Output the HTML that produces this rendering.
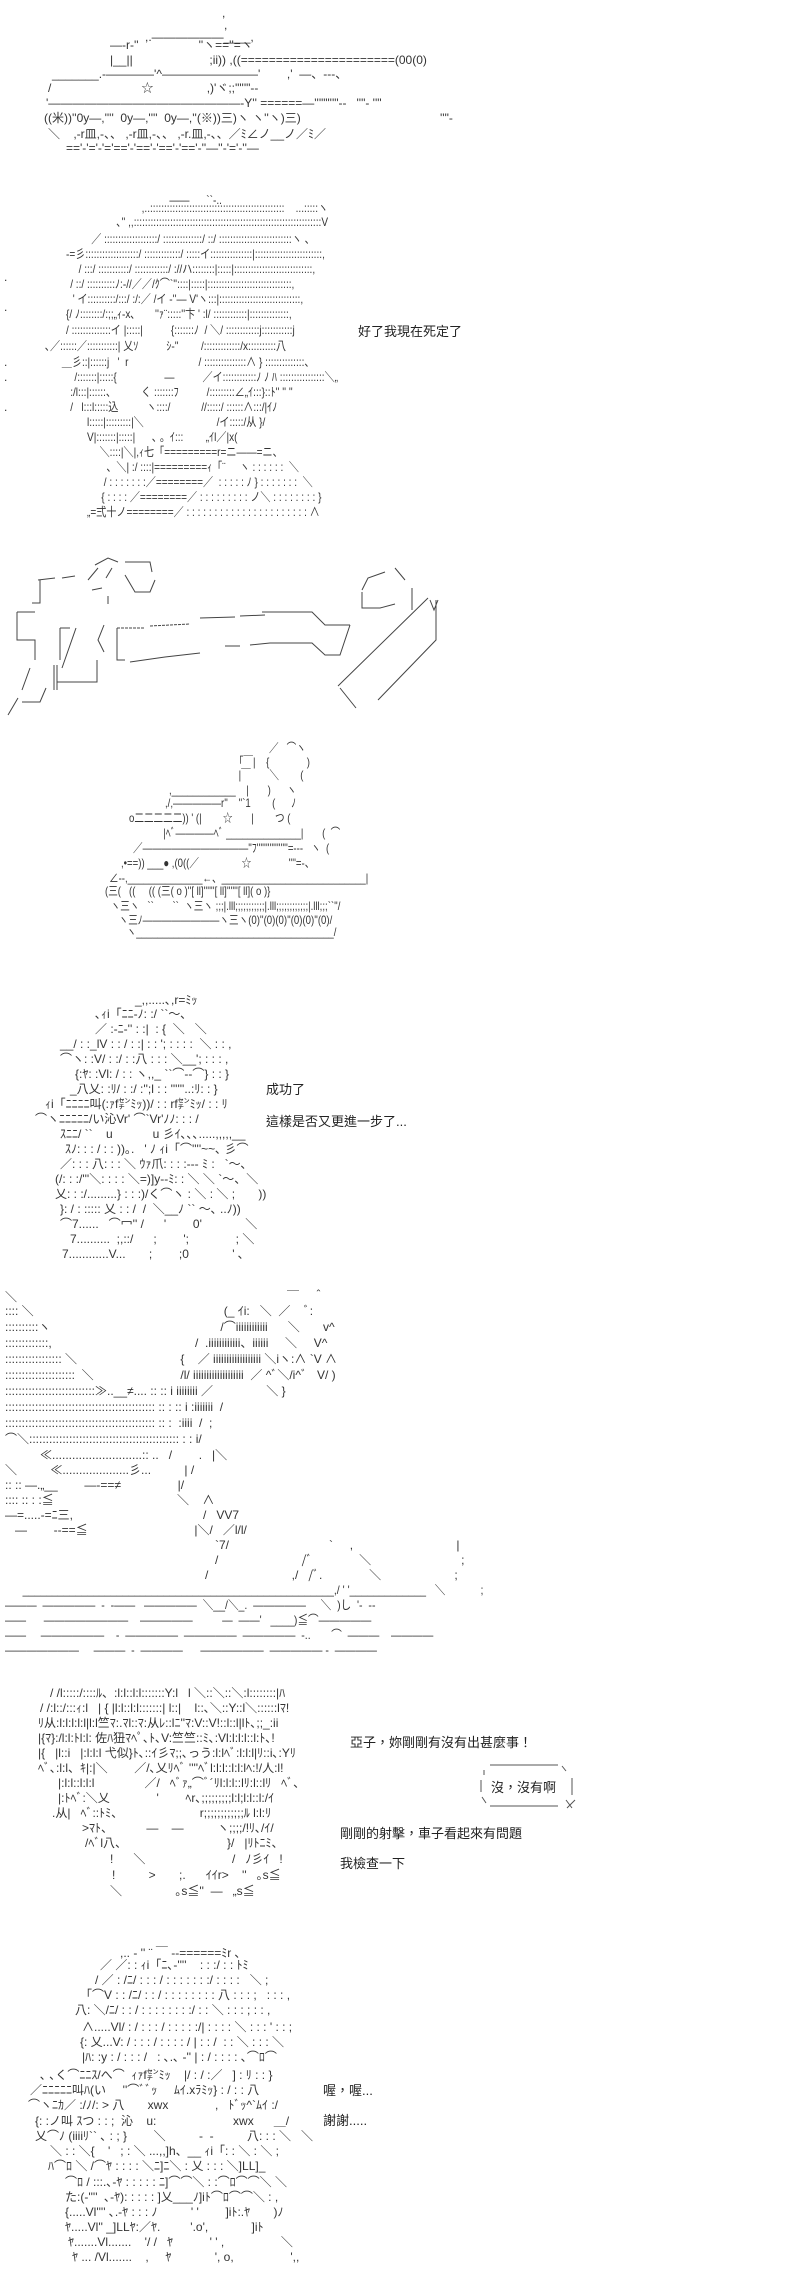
<!DOCTYPE html>
<html><head><meta charset="utf-8">
<style>
html,body{margin:0;padding:0;background:#fff;}
body{width:800px;height:2291px;position:relative;overflow:hidden;}
.l{position:absolute;white-space:pre;font-family:"Liberation Sans","Noto Sans CJK JP",sans-serif;font-size:12px;line-height:15px;color:#333;}
.t{position:absolute;white-space:pre;font-family:"Liberation Sans","Noto Sans CJK TC",sans-serif;font-size:13px;line-height:15px;color:#222;}
.w{position:absolute;left:0;top:0;width:800px;height:2291px;}
svg{position:absolute;left:0;top:0;}
</style></head><body>

<!-- Tank 1 -->
<div class="l" style="left:222px;top:6px">,</div>
<div class="l" style="left:224px;top:18px">,</div>
<div class="l" style="left:145px;top:30px">,.――――――____,</div>
<div class="l" style="left:110px;top:38px">―‐r‐''                  ''ヽ==''=ヽ</div>
<div class="l" style="left:110px;top:53px">|__||                       ;ii)) ,((======================(00(0)</div>
<div class="l" style="left:52px;top:67px">_______.-――――'^――――――――'        ,'  ―、‐‐‐、</div>
<div class="l" style="left:48px;top:81px">/                           ☆                ,)'ヾ;;'"''"‐‐</div>
<div class="l" style="left:46px;top:96px">'――――――――――――――――‐Y'' ======―'''""''"‐‐   ''"‐ ''"</div>
<div class="l" style="left:440px;top:111px">''"‐</div>
<div class="l" style="left:44px;top:111px">((米))''0y―,''''  0y―,''''  0y―,''(※))三)ヽ ヽ''ヽ)三)</div>
<div class="l" style="left:48px;top:127px">＼    ,‐r皿,‐、、 ,‐r皿,‐、、 ,‐r.皿,‐、、／ﾐ∠ノ__ノ／ﾐ／</div>
<div class="l" style="left:66px;top:141px">=='‐'='‐'='=='‐'=='‐'=='‐'=='‐''―''‐'='‐''―</div>

<!-- Girl 1 -->
<div class="w" style="transform:scaleX(.84);transform-origin:45px 0">
<div class="l" style="left:193px;top:193px">――      ``‐..</div>
<div class="l" style="left:160px;top:201px">,..::::::::::::::::::::::::::::::::::::::::::::::::    ...:::::ヽ</div>
<div class="l" style="left:130px;top:215px">､'' ,,:::::::::::::::::::::::::::::::::::::::::::::::::::::::::::::::::::V</div>
<div class="l" style="left:100px;top:232px">／ :::::::::::::::::::/ ::::::::::::::/ ::/ ::::::::::::::::::::::::::ヽ 、</div>
<div class="l" style="left:70px;top:247px">‐=彡:::::::::::::::::::/ :::::::::::::/ :::::イ:::::::::::::::|::::::::::::::::::::::::,</div>
<div class="l" style="left:85px;top:262px">/ :::/ :::::::::::/ ::::::::::::/ ://ハ::::::::|:::::|::::::::::::::::::::::::::::,</div>
<div class="l" style="left:75px;top:277px">/ ::/ ::::::::::ﾉ:‐//／／/ｸ⌒`''::::|:::::|::::::::::::::::::::::::::::::,</div>
<div class="l" style="left:78px;top:292px">' イ::::::::::/:::/ :/:／ /イ ‐''― V'ヽ:::|:::::::::::::::::::::::::::::,</div>
<div class="l" style="left:70px;top:307px">{/ ﾉ::::::::/:;;„ｨ‐x､       ''ｧ¨:::::''卞 ' :l/ ::::::::::::|::::::::::::::,</div>
<div class="l" style="left:70px;top:323px">/ ::::::::::::::イ |:::::|          {:::::::ﾉ  / ＼/ ::::::::::::j:::::::::::j</div>
<div class="l" style="left:45px;top:339px">､／::::::／:::::::::::| 乂ｿ          ｼ‐''        /:::::::::::::/x::::::::::八</div>
<div class="l" style="left:65px;top:355px">＿彡::|::::::j   '  r                         / :::::::::::::::∧ } ::::::::::::::、</div>
<div class="l" style="left:80px;top:370px">/:::::::|:::::{                 ―          ／イ::::::::::::ﾉ ﾉ ﾊ ::::::::::::::::＼„</div>
<div class="l" style="left:75px;top:385px">:/l:::|::::::、         く :::::::ﾌ          /:::::::::∠„ｲ:::}::ﾄ'' '' ''</div>
<div class="l" style="left:75px;top:400px">/   l:::l:::::込          ヽ::::/           //:::::/ ::::::∧:::/|ｲﾉ</div>
<div class="l" style="left:95px;top:415px">l:::::|:::::::::|＼                          /イ:::::/从 }/</div>
<div class="l" style="left:95px;top:430px">V|:::::::|:::::|      ､ 。ｲ:::        „ｲl／|x(</div>
<div class="l" style="left:110px;top:445px">＼::::|＼|,ｨ七「=========r=ニ――=ニ、</div>
<div class="l" style="left:118px;top:460px">、＼| :/ ::::|=========ｨ「¨     ヽ : : : : : :  ＼</div>
<div class="l" style="left:115px;top:475px">/ : : : : : : :／========／  : : : : : ﾉ } : : : : : : :  ＼</div>
<div class="l" style="left:112px;top:490px">{ : : : : ／========／ : : : : : : : : : ノ＼ : : : : : : : : }</div>
<div class="l" style="left:95px;top:505px">„=弍十ノ========／ : : : : : : : : : : : : : : : : : : : : : : ∧</div>
</div>
<div class="l" style="left:4px;top:270px">.</div><div class="l" style="left:4px;top:300px">.</div>
<div class="l" style="left:4px;top:355px">.</div><div class="l" style="left:4px;top:370px">.</div><div class="l" style="left:4px;top:400px">.</div>
<div class="t" style="left:358px;top:324px">好了我現在死定了</div>

<!-- Gun scene -->
<svg width="800" height="2291" viewBox="0 0 800 2291">
<g fill="none" stroke="#444" stroke-width="1">
<path d="M38,580 L55,578 M62,578 L75,576"/>
<path d="M40,580 L40,603 L32,603"/>
<path d="M17,612 L35,612 M17,612 L17,640 L35,640 L35,660"/>
<path d="M30,668 L22,690 M18,698 L8,715"/>
<path d="M22,702 L40,702 L46,688"/>
<path d="M95,565 L108,558 L118,562 M88,580 L98,568 M92,590 L102,588 M106,578 L112,568"/>
<path d="M125,562 L150,562 L152,572 M125,575 L135,592 L150,592 L155,580"/>
<path d="M108,596 L108,604"/>
<path d="M60,628 L70,628 M60,628 L60,660 M76,628 L62,668"/>
<path d="M54,665 L54,690 M57,665 L57,690 M57,682 L97,682 L97,660"/>
<path d="M104,625 L98,640 L104,652"/>
<path d="M117,628 L145,628 M150,626 L190,624" stroke-dasharray="3,1"/>
<path d="M200,618 L235,617 M240,616 L265,615 M262,612 L312,612 L325,625 L350,625"/>
<path d="M117,628 L117,660 L125,660 M130,662 L165,657 L200,653 M225,646 L240,646 M250,645 L270,643 L312,643 L325,655 L340,655 L350,625"/>
<path d="M362,590 L368,578 L385,572 M395,568 L405,580 M412,588 L412,610 M362,592 L362,608 L380,608 L395,604"/>
<path d="M428,598 L338,686 M436,600 L436,640 L378,700 M340,688 L356,708"/>
<path d="M430,600 L434,610 L438,600"/>
</g>
</svg>

<!-- Tank 2 -->
<div class="w" style="transform:scaleX(.8);transform-origin:105px 0">
<div class="l" style="left:310px;top:741px">／   ⌒ヽ</div>
<div class="l" style="left:272px;top:755px">｢￣|    {              )</div>
<div class="l" style="left:272px;top:768px">|￣       ＼        (</div>
<div class="l" style="left:185px;top:783px">,____________    |       )      ヽ</div>
<div class="l" style="left:180px;top:796px">,/,―――――r''    ''`1        (      ﾉ</div>
<div class="l" style="left:135px;top:811px">o二二二二二)) ' (|        ☆       |        つ (</div>
<div class="l" style="left:178px;top:826px">|ﾍﾞ――――ﾍﾞ ______________|       (  ⌒</div>
<div class="l" style="left:140px;top:841px">／―――――――――――''ﾌ'''''''''''''''''=‐‐‐   ヽ  (</div>
<div class="l" style="left:125px;top:856px">,•==)) ___● ,(0((／                ☆              ''''=‐、</div>
<div class="l" style="left:110px;top:871px">∠‐‐,______________←、___________________________|</div>
<div class="l" style="left:105px;top:884px">(三(   ((     (( (三( o )''[ ll]''''''[ ll]''''''[ ll]( o )}</div>
<div class="l" style="left:112px;top:899px">ヽ三ヽ   ``       ``  ヽ三ヽ ;;;|.lll;;;;;;;;;;;|.lll;;;;;;;;;;;;|.lll;;;``''/</div>
<div class="l" style="left:122px;top:913px">ヽ三ﾉ――――――――ヽ三ヽ(0)''(0)(0)''(0)(0)''(0)/</div>
<div class="l" style="left:132px;top:925px">ヽ_____________________________________/</div>
</div>

<!-- Girl 2 -->
<div class="l" style="left:135px;top:993px">_,,.....､,r=ﾐｯ</div>
<div class="l" style="left:95px;top:1007px">､ｨi「ﾆﾆ‐ﾉ: :/ ``～､</div>
<div class="l" style="left:95px;top:1022px">／ :‐ﾆ‐'' : :|  : {  ＼   ＼</div>
<div class="l" style="left:60px;top:1037px">__/ : :_lV : : / : :| : : '; : : : :  ＼ : : ,</div>
<div class="l" style="left:60px;top:1052px">⌒ヽ: :V/ : :/ : :八 : : : ＼__'; : : : ,</div>
<div class="l" style="left:75px;top:1067px">{:ﾔ: :Vl: / : : ヽ,,_ ``⌒‐‐⌒} : : }</div>
<div class="l" style="left:70px;top:1082px">_八乂: :ﾘ/ : :/ :'';l : : ''''''..:ﾘ: : }</div>
<div class="l" style="left:45px;top:1097px">ｨi「ﾆﾆﾆﾆ叫(:ｧf㌢ﾐｯ))/ : : rf㌢ﾐｯ/ : : ﾘ</div>
<div class="l" style="left:35px;top:1112px">⌒ヽﾆﾆﾆﾆﾆ/い沁Vr' ⌒`Vr'ﾉﾉ: : : /</div>
<div class="l" style="left:60px;top:1127px">ｽﾆﾆ/ ``    u            u 彡ｲ､､､.....,,,,,__</div>
<div class="l" style="left:65px;top:1142px">ｽﾉ: : : / : : ))｡.   ' ﾉ ｨi「⌒''''~~､ 彡⌒</div>
<div class="l" style="left:60px;top:1157px">／: : : 八: : : ＼ ｳｧ爪: : : :‐‐‐ ﾐ :   `～､</div>
<div class="l" style="left:55px;top:1172px">(/: : :/'''＼: : : : ＼=)]y‐‐ﾐ: : ＼ ＼ `～、＼</div>
<div class="l" style="left:55px;top:1187px">乂: : :/.........} : : :)/く⌒ヽ : ＼ : ＼ ;       ))</div>
<div class="l" style="left:60px;top:1202px">}: / : ::::: 乂 : : /  /  ＼__ﾉ `` ～､ ..ﾉ))</div>
<div class="l" style="left:60px;top:1217px">⌒7......   ⌒冖'' /      '        0'             ＼</div>
<div class="l" style="left:70px;top:1232px">7..........  ;,::/      ;        ';              ; ＼</div>
<div class="l" style="left:62px;top:1247px">7............V...       ;        ;0             ' ､</div>
<div class="t" style="left:266px;top:1082px">成功了</div>
<div class="t" style="left:266px;top:1114px">這樣是否又更進一步了...</div>

<!-- Scene 6 -->
<div class="l" style="left:5px;top:1290px">＼                                                                                 ￣    ＾</div>
<div class="l" style="left:5px;top:1304px">:::: ＼                                                         (_ ｲi:   ＼  ／    ﾞ:</div>
<div class="l" style="left:5px;top:1320px">::::::::::ヽ                                                   /⌒iiiiiiiiiiii      ＼       v^</div>
<div class="l" style="left:5px;top:1336px">:::::::::::::,                                           /  .iiiiiiiiiiii、iiiiii     ＼     V^</div>
<div class="l" style="left:5px;top:1352px">::::::::::::::::: ＼                               {    ／ iiiiiiiiiiiiiiiiii ＼iヽ:∧ `V ∧</div>
<div class="l" style="left:5px;top:1368px">:::::::::::::::::::::  ＼                          /l/ iiiiiiiiiiiiiiiiiii  ／ ^ﾞ＼/i^ﾞ   V/ )</div>
<div class="l" style="left:5px;top:1384px">:::::::::::::::::::::::::::≫..__≠.... :: :: i iiiiiiii ／                ＼ }</div>
<div class="l" style="left:5px;top:1400px">::::::::::::::::::::::::::::::::::::::::::::: :: : :: i :iiiiiii  /</div>
<div class="l" style="left:5px;top:1416px">::::::::::::::::::::::::::::::::::::::::::::: :: :  :iiii  /  ;</div>
<div class="l" style="left:5px;top:1432px">⌒＼::::::::::::::::::::::::::::::::::::::::::::: : : i/</div>
<div class="l" style="left:40px;top:1448px">≪...........................:: ..   /        .   |＼</div>
<div class="l" style="left:5px;top:1463px">＼          ≪....................彡...          | /</div>
<div class="l" style="left:5px;top:1478px">:: :: ―.„__        ―‐==≠                 |/</div>
<div class="l" style="left:5px;top:1493px">:::: :: : :≦                                     ＼    ∧</div>
<div class="l" style="left:5px;top:1508px">―=.....‐=ﾆ三,                                       /   VV7</div>
<div class="l" style="left:15px;top:1523px">―        ‐‐==≦                                |＼/   ／l/l/</div>
<div class="l" style="left:215px;top:1538px">`7/                              `     ,                               |</div>
<div class="l" style="left:215px;top:1553px">/                         /ﾞ              ＼                           ;</div>
<div class="l" style="left:205px;top:1568px">/                         ,/   /ﾞ.              ＼                      ;</div>
<div class="w" style="transform:scaleX(.88);transform-origin:5px 0">
<div class="l" style="left:25px;top:1583px">_____________________________________________________,/ ' '_____________   ＼            ;</div>
<div class="l" style="left:5px;top:1598px">―――  ―――――  ‐  ‐――   ―――――  ＼__/＼_.  ―――――     ＼  )し  '‐  ‐‐</div>
<div class="l" style="left:5px;top:1613px">――      ――――――――    ―――――          ―  ――'   ____)≦⌒―――――</div>
<div class="l" style="left:5px;top:1628px">――     ――――――    ‐  ―――――  ―――――  ―――――  ‐..       ⌒  ―――    ――――</div>
<div class="l" style="left:5px;top:1643px">―――――――     ―――  ‐  ――――      ――――――  ――――― ‐  ――――</div>
</div>

<!-- Girl 3 -->
<div class="l" style="left:50px;top:1686px">/ /l:::::/::::ﾙ、:l:l::l:l:::::::Y:l   l ＼::＼::＼:l::::::::|ﾊ</div>
<div class="l" style="left:40px;top:1701px">/ /:l::/:::ｨ:l   | { |l:l::l:l:::::::| l::|    l::､＼::Y::l＼::::::lﾏ!</div>
<div class="l" style="left:38px;top:1716px">ﾘ从:l:l:l:l:l|l:l竺ﾏ:.ﾏl::ﾏ:从ﾚ::lﾆ''ﾏ:V::V!::l::l|lﾄ､;;_:ii</div>
<div class="l" style="left:38px;top:1731px">|{ﾏ}:/l:l:ﾄl:l: 佐ﾊ狃ﾏﾍﾟ､ﾄ､V:竺竺::ﾐ､:Vl:l:l:l::l:ﾄ､!</div>
<div class="l" style="left:38px;top:1746px">|{   |l::i   |:l:l:l 弋似}ﾄ､::ｲ彡ﾏ;;､っう:l:lﾍﾞ:l:l:l|ﾘ::i､:Yﾘ</div>
<div class="l" style="left:38px;top:1761px">ﾍﾞ､:l:l、ｷ|:|＼        ／/､乂ﾘﾍﾞ ''''ﾍﾞl:l:l::l:l:lﾍ:!/人:l!</div>
<div class="l" style="left:58px;top:1776px">|:l:l::l:l:l               ／/   ﾍﾞｧ„⌒ﾞ´ﾘl:l:l::lﾘ:l::lﾘ   ﾍﾞ、</div>
<div class="l" style="left:58px;top:1791px">|:ﾄﾍﾞ:＼乂              '        ﾍr､;;;;;;;;;l:l;l:l::l:/ｲ</div>
<div class="l" style="left:52px;top:1806px">.从|   ﾍﾞ::ﾄﾐ、                       r;;;;;;;;;;;;ﾙ l:l:ﾘ</div>
<div class="l" style="left:82px;top:1821px">&gt;ﾏﾄ、          ―    ―          ヽ;;;;/!ﾘ､/ｲ/</div>
<div class="l" style="left:85px;top:1836px">/ﾍﾞl八、                              }/   |ﾘﾄﾆﾐ、</div>
<div class="l" style="left:110px;top:1852px">!      ＼                          /   ﾉ彡ｲ   !</div>
<div class="l" style="left:112px;top:1868px">!          &gt;       ;.      ｲｲr&gt;    ''   ｡s≦</div>
<div class="l" style="left:110px;top:1884px">＼                ｡s≦''  ―   „s≦</div>
<div class="t" style="left:350px;top:1735px">亞子，妳剛剛有沒有出甚麼事！</div>
<svg width="800" height="2291" viewBox="0 0 800 2291"><g fill="none" stroke="#555" stroke-width="1">
<path d="M490,1765 L558,1765 M490,1806 L558,1806"/>
<path d="M484,1770 L484,1775 M481,1780 L481,1792 M482,1797 L486,1803"/>
<path d="M562,1766 L566,1771 M572,1778 L572,1795 M566,1800 L572,1808 M575,1800 L567,1808"/>
</g></svg>
<div class="t" style="left:491px;top:1780px">沒，沒有啊</div>
<div class="t" style="left:340px;top:1826px">剛剛的射擊，車子看起來有問題</div>
<div class="t" style="left:340px;top:1856px">我檢查一下</div>

<!-- Girl 4 -->
<div class="l" style="left:120px;top:1946px">,.. ‐ '' ¨ ￣ ‐‐======ﾐr ､</div>
<div class="l" style="left:100px;top:1958px">／ ／: : ｨi「ﾆ､‐''''    : : :/ : : ﾄﾐ</div>
<div class="l" style="left:95px;top:1973px">/ ／ : /ﾆ/ : : : / : : : : : : :/ : : : :   ＼ ;</div>
<div class="l" style="left:80px;top:1988px">「⌒V : : /ﾆ/ : : / : : : : : : : : 八 : : : ;   : : : ,</div>
<div class="l" style="left:75px;top:2003px">八: ＼/ﾆ/ : : / : : : : : : : :/ : : ＼ : : : ; : : ,</div>
<div class="l" style="left:82px;top:2020px">∧.....Vl/ : / : : : / : : : : :/| : : : : ＼ : : : ' : : ;</div>
<div class="l" style="left:80px;top:2035px">{: 乂...V: / : : : / : : : : / | : : /  : : ＼ : : : ＼</div>
<div class="l" style="left:82px;top:2050px">|ﾊ: :y : / : : : /   : ､.､ ‐'' | : / : : : : ､⌒ﾛ⌒</div>
<div class="l" style="left:40px;top:2068px">､ ､く⌒ﾆﾆｽ/へ⌒  ｨｧf㌢ﾐｯ    |/ : / :／   ] : ﾘ : : }</div>
<div class="l" style="left:30px;top:2083px">／ﾆﾆﾆﾆﾆ叫ﾊ(い     ''⌒ﾞﾞｯ     ﾑｲ.xﾗﾐｯ} : / : : 八</div>
<div class="l" style="left:28px;top:2098px">⌒ヽﾆｶ／ :/ﾉ/: &gt; 八       xwx              ,   ﾄﾞｯ^`ﾑｲ :/</div>
<div class="l" style="left:35px;top:2114px">{: :ノ叫 ｽつ : : ;  沁    u:                       xwx      ＿/</div>
<div class="l" style="left:35px;top:2129px">乂⌒ﾉ (iiiiﾘ`` ､ : ; }        ＼          ‐  ‐          八: : : ＼   ＼</div>
<div class="l" style="left:50px;top:2144px">＼ : : ＼{    '   ; : ＼ ...,,]h、__ ｨi「: : ＼ : ＼ ;</div>
<div class="l" style="left:48px;top:2159px">ﾊ⌒ﾛ ＼ /⌒ﾔ : : : : ＼ﾆ]ﾆ＼ : 乂 : : : ＼]LL]_</div>
<div class="l" style="left:65px;top:2175px">⌒ﾛ / :::.､-ﾔ : : : : : ﾆ]⌒⌒＼ : :⌒ﾛ⌒⌒＼ ＼</div>
<div class="l" style="left:65px;top:2190px">た:(‐''''  ､-ﾔ): : : : : ]乂___ﾉ]iﾄ⌒ﾛ⌒⌒＼ : ,</div>
<div class="l" style="left:65px;top:2205px">{.....Vl'''' ､.-ﾔ : : : ﾉ          ' '        ]iﾄ:.ﾔ       )ﾉ</div>
<div class="l" style="left:65px;top:2220px">ﾔ.....Vl'' _]LLﾔ:／ﾔ.         '.o',             ]iﾄ</div>
<div class="l" style="left:68px;top:2235px">ﾔ.......Vl.......    '/ /   ﾔ           ' ' ,                 ＼</div>
<div class="l" style="left:72px;top:2250px">ﾔ ... /Vl.......    ,     ﾔ             ', o,                 ',,</div>
<div class="t" style="left:323px;top:2083px">喔，喔...</div>
<div class="t" style="left:323px;top:2113px">謝謝.....</div>

</body></html>
